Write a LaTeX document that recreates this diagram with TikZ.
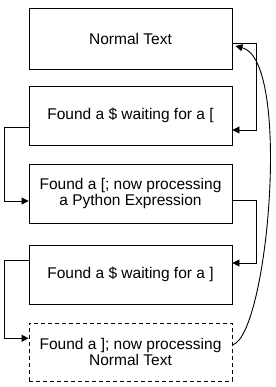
\documentclass[tikz,border=0pt]{standalone}
\usepackage{fontspec}
\setmainfont{Liberation Sans}
\usetikzlibrary{arrows.meta}
\begin{document}
\begin{tikzpicture}[x=1pt,y=-1pt,
  statebox/.style={draw,line width=0.9pt,minimum width=203pt,inner sep=0pt,align=center,
    font=\fontsize{15.5}{15.5}\selectfont},
  conn/.style={line width=0.9pt,-{Triangle[length=7pt,width=7pt]}}]
\useasboundingbox (0,0) rectangle (275,387);
\node[statebox,minimum height=61pt] (b1) at (130.5,38.5) {\raisebox{-3pt}{Normal Text}};
\node[statebox,minimum height=59pt] (b2) at (130.5,115.5) {Found a \$ waiting for a [};
\node[statebox,minimum height=59pt] (b3) at (130.5,193.5) {Found a [; now processing\\a Python Expression};
\node[statebox,minimum height=59pt] (b4) at (130.5,274.5) {Found a \$ waiting for a ]};
\node[statebox,minimum height=58pt,dash pattern=on 4pt off 3pt] (b5) at (130.5,352) {Found a ]; now processing\\Normal Text};
\draw[conn] ([yshift=-4.5pt]b1.east) -- ++(24,0) |- ([yshift=-14.5pt]b2.east);
\draw[conn] ([yshift=-11.5pt]b2.west) -- ++(-24,0) |- ([yshift=-7.5pt]b3.west);
\draw[conn] ([yshift=-6.5pt]b3.east) -- ++(24,0) |- ([yshift=11.5pt]b4.east);
\draw[conn] ([yshift=14.5pt]b4.west) -- ++(-24,0) |- ([yshift=13.7pt]b5.west);
\coordinate (c1) at (268,335);
\coordinate (c2) at (292,60);
\draw[conn] ([yshift=7pt]b5.east) .. controls (c1) and (c2) .. ([xshift=3pt,yshift=-7.5pt]b1.east);
\end{tikzpicture}
\end{document}
